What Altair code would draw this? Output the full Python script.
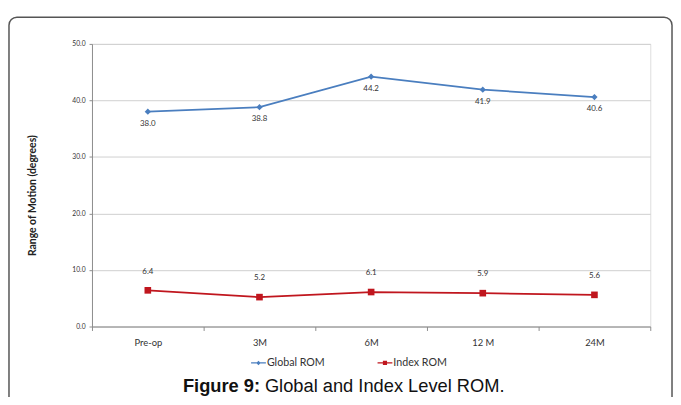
import altair as alt
import pandas as pd

categories = ["Pre-op", "3M", "6M", "12 M", "24M"]
global_rom = [38.0, 38.8, 44.2, 41.9, 40.6]
index_rom = [6.4, 5.2, 6.1, 5.9, 5.6]
series_names = ["Global ROM", "Index ROM"]
series_colors = ["#4a7ebf", "#c0161e"]
y_ticks = [0, 10, 20, 30, 40, 50]

rows = []
for c, g, i in zip(categories, global_rom, index_rom):
    rows.append({"cat": c, "series": series_names[0], "value": g, "label": f"{g:.1f}"})
    rows.append({"cat": c, "series": series_names[1], "value": i, "label": f"{i:.1f}"})
df = pd.DataFrame(rows)

FONT = "Lato"

x_enc = alt.X(
    "cat:N",
    sort=categories,
    scale=alt.Scale(domain=categories, paddingInner=0, paddingOuter=0),
    axis=alt.Axis(
        title=None, labelAngle=0, tickBand="extent", tickSize=4, tickColor="#8c8c8c",
        domainColor="#8c8c8c", labelFont=FONT, labelFontSize=9.5, labelColor="#333333",
        labelPadding=7, grid=False,
    ),
)
y_enc = alt.Y(
    "value:Q",
    scale=alt.Scale(domain=[0, 50], nice=False, zero=True),
    axis=alt.Axis(
        title="Range of Motion (degrees)", values=y_ticks, format=".1f",
        labelFont=FONT, labelFontSize=6.8, labelColor="#333333", labelPadding=4,
        tickSize=3, tickColor="#8c8c8c", domainColor="#8c8c8c",
        gridColor="#cfcfcf", gridWidth=1,
        titleFont=FONT, titleFontSize=10.5, titleFontWeight="bold", titleColor="#222222",
        titleX=-60, titleY=153, titleAlign="center", titleBaseline="middle", titleAngle=270,
    ),
)

base = alt.Chart(df)

g_only = base.transform_filter(alt.datum.series == series_names[0])
i_only = base.transform_filter(alt.datum.series == series_names[1])

g_line = g_only.mark_line(color=series_colors[0], strokeWidth=1.8).encode(x=x_enc, y=y_enc)
i_line = i_only.mark_line(color=series_colors[1], strokeWidth=1.8).encode(x=x_enc, y=y_enc)
g_pts = g_only.mark_point(shape="diamond", filled=True, size=40, opacity=1,
                          color=series_colors[0]).encode(x=x_enc, y=y_enc)
i_pts = i_only.mark_point(shape="square", filled=True, size=45, opacity=1,
                          color=series_colors[1]).encode(x=x_enc, y=y_enc)
g_lbl = g_only.mark_text(font=FONT, fontSize=8, color="#333333", dy=12).encode(
    x=x_enc, y=y_enc, text="label:N")
i_lbl = i_only.mark_text(font=FONT, fontSize=8, color="#333333", dy=-19).encode(
    x=x_enc, y=y_enc, text="label:N")

legend_paths = [
    "M-1,-0.08H1V0.08H-1Z M0,-0.3L0.3,0L0,0.3L-0.3,0Z",
    "M-1,-0.08H1V0.08H-1Z M-0.28,-0.28H0.28V0.28H-0.28Z",
]
leg = alt.Legend(
    title=None, orient="none", legendX=161, legendY=315,
    direction="horizontal", symbolSize=225, symbolStrokeWidth=0,
    labelFont=FONT, labelFontSize=10.8, labelColor="#333333",
    labelOffset=1, columnPadding=53,
)
legend_layer = base.transform_filter(alt.datum.value < -1000).mark_point(
    filled=True, opacity=1
).encode(
    x=x_enc,
    y=y_enc,
    color=alt.Color("series:N", scale=alt.Scale(domain=series_names, range=series_colors),
                    legend=leg),
    shape=alt.Shape("series:N", scale=alt.Scale(domain=series_names, range=legend_paths),
                    legend=leg),
)

one = alt.Chart(pd.DataFrame({"a": [0]}))
border = one.mark_rect(filled=False, stroke="#555555", strokeWidth=1.5, cornerRadius=8).encode(
    x=alt.value(-84), x2=alt.value(587), y=alt.value(-27), y2=alt.value(420)
)
cap_bold = one.mark_text(font="Liberation Sans", fontSize=18.5, fontWeight="bold", align="left",
                         baseline="alphabetic", color="#111111").encode(
    x=alt.value(92), y=alt.value(352), text=alt.value("Figure 9:"))
cap_rest = one.mark_text(font="Liberation Sans", fontSize=18.5, align="left",
                         baseline="alphabetic", color="#111111").encode(
    x=alt.value(175), y=alt.value(352), text=alt.value("Global and Index Level ROM."))

chart = alt.layer(
    border, g_line, i_line, g_pts, i_pts, g_lbl, i_lbl, legend_layer, cap_bold, cap_rest
).properties(
    width=565, height=286,
    autosize=alt.AutoSizeParams(type="none"),
    padding={"left": 85, "top": 34, "right": 23, "bottom": 69},
).configure_view(stroke=None).configure(background="white")

chart.save("out.html", embed_options={"renderer": "svg", "actions": False})
